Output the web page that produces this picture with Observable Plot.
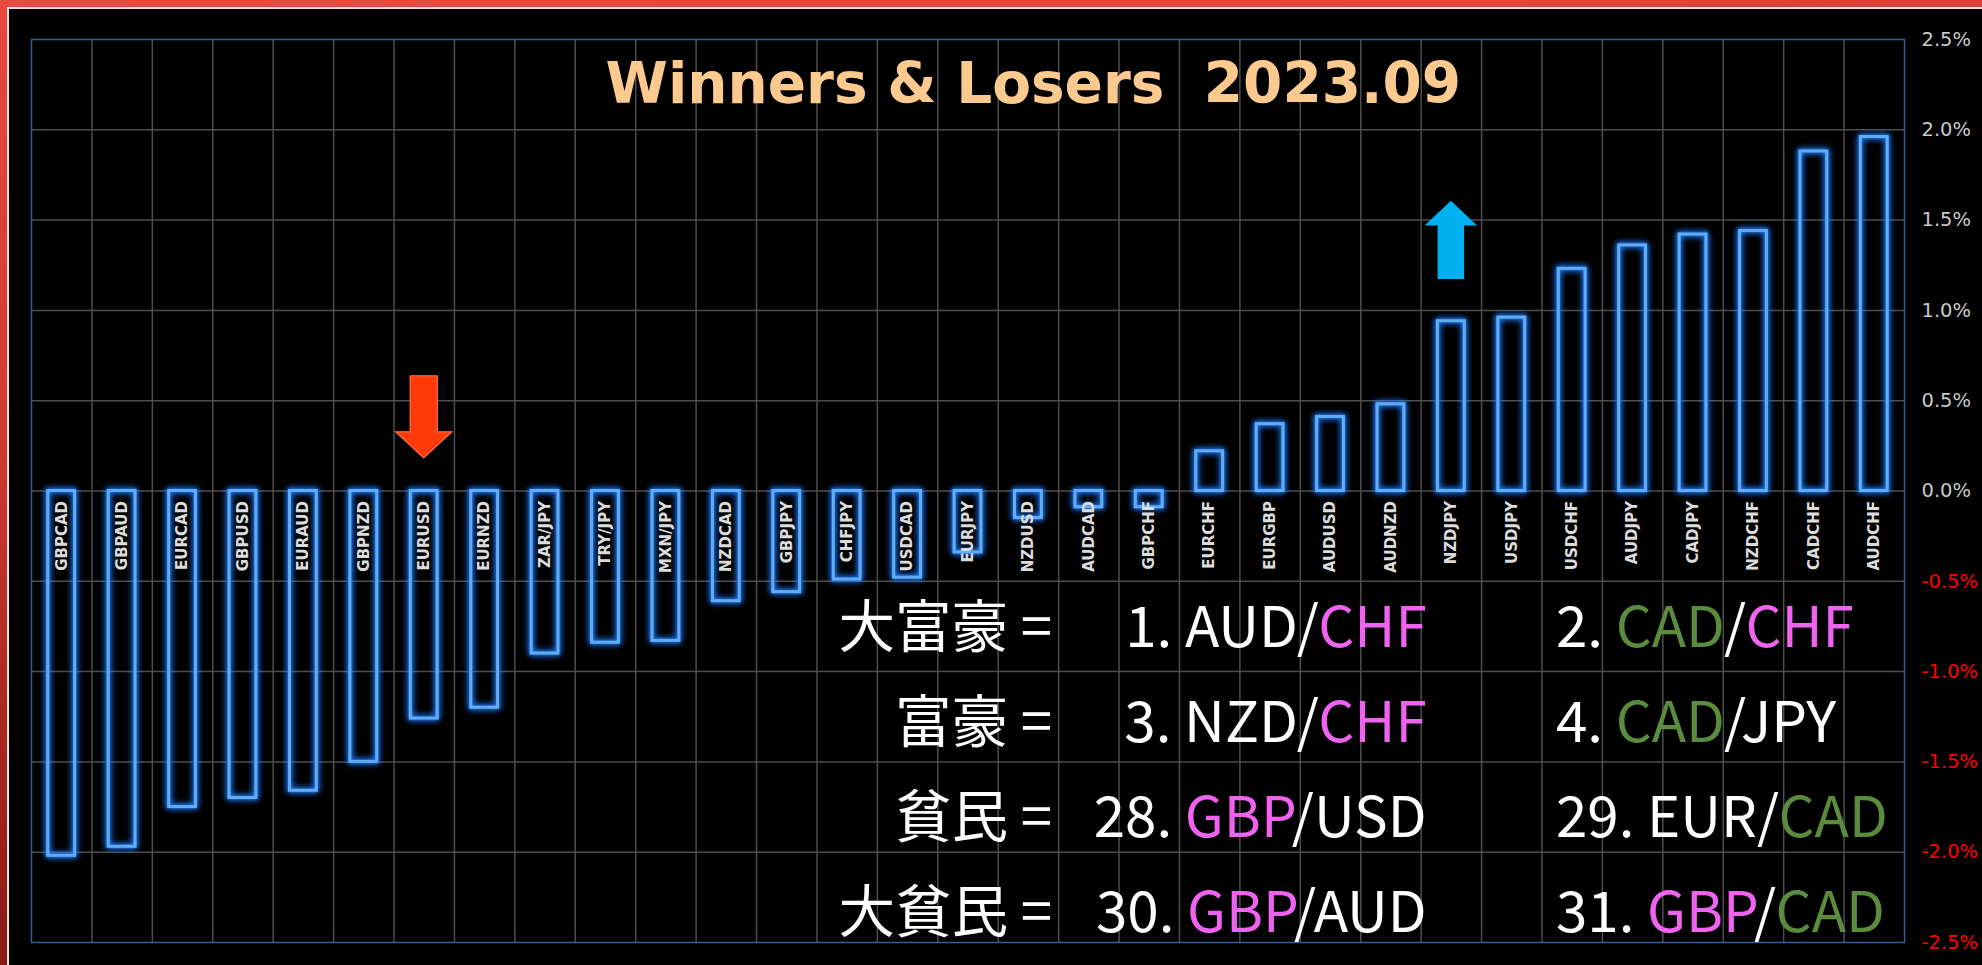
<!DOCTYPE html>
<html>
<head>
<meta charset="utf-8">
<script src="https://cdn.jsdelivr.net/npm/d3@7"></script>
<script src="https://cdn.jsdelivr.net/npm/@observablehq/plot@0.6"></script>
<style>
  html, body { margin: 0; padding: 0; background: #000; width: 1982px; height: 965px; overflow: hidden; }
  #frame-top { position: absolute; left: 0; top: 0; width: 1982px; height: 7px; background: linear-gradient(90deg, #e9493f, #e4463d 70%, #dc3f37); }
  #frame-left { position: absolute; left: 0; top: 0; width: 7px; height: 965px; background: linear-gradient(180deg, #e9493f, #cf3a31 45%, #8a1915); }
  #line-top { position: absolute; left: 7px; top: 7px; width: 1975px; height: 2px; background: #f2e2df; }
  #line-left { position: absolute; left: 7px; top: 7px; width: 2px; height: 958px; background: #f2e2df; }
  #chart { position: absolute; left: 0; top: 0; }
</style>
</head>
<body>
<div id="frame-top"></div>
<div id="frame-left"></div>
<div id="line-top"></div>
<div id="line-left"></div>
<div id="chart"></div>
<script>
// ---- Data ----
const pairs = ["GBPCAD","GBPAUD","EURCAD","GBPUSD","EURAUD","GBPNZD","EURUSD","EURNZD","ZAR/JPY","TRY/JPY","MXN/JPY",
  "NZDCAD","GBPJPY","CHFJPY","USDCAD","EURJPY","NZDUSD","AUDCAD","GBPCHF","EURCHF","EURGBP","AUDUSD","AUDNZD",
  "NZDJPY","USDJPY","USDCHF","AUDJPY","CADJPY","NZDCHF","CADCHF","AUDCHF"];
const changes = [-2.02,-1.97,-1.75,-1.70,-1.66,-1.50,-1.26,-1.20,-0.90,-0.84,-0.83,
  -0.61,-0.56,-0.49,-0.48,-0.34,-0.15,-0.09,-0.09,0.22,0.37,0.41,0.48,
  0.94,0.96,1.23,1.36,1.42,1.44,1.88,1.96];
const yTicks = [2.5,2.0,1.5,1.0,0.5,0.0,-0.5,-1.0,-1.5,-2.0,-2.5];
const titleText = "Winners & Losers  2023.09";

// ranking annotation
const rankTitles = ["大富豪 =","富豪 =","貧民 =","大貧民 ="];
const leftRanks  = ["1.","3.","28.","30."];
const leftBase   = ["AUD","NZD","GBP","GBP"];
const leftQuote  = ["CHF","CHF","USD","AUD"];
const rightRanks = ["2.","4.","29.","31."];
const rightBase  = ["CAD","CAD","EUR","GBP"];
const rightQuote = ["CHF","JPY","CAD","CAD"];

// arrows (pair they point at)
const arrowPairs = ["EURUSD","NZDJPY"];

// ---- Styles / layout ----
const currencyColor = {CHF: "#f062f0", GBP: "#f062f0", CAD: "#5b8c3d"};
const rowLevels = [-0.866, -1.392, -1.918, -2.445];   // text baselines, y units
const colTitleEnd = 16.90, colLeftEnd = 23.10, colRightStart = 25.24; // column units
const titlePos = {col: 16.59, level: 2.146};
const arrowStyle = [
  {tail: 0.635, neck: 0.325, tip: 0.18, shaft: 0.225, head: 0.465, color: "#ff3a0a", edge: "#ff6a4a"},
  {tail: 1.175, neck: 1.47,  tip: 1.60, shaft: 0.21,  head: 0.41,  color: "#00b0f0", edge: "#00b0f0"}
];

const data = pairs.map((p, i) => ({pair: p, i, value: changes[i]}));
const NS = "http://www.w3.org/2000/svg";

function el(doc, tag, attrs) {
  const e = doc.createElementNS(NS, tag);
  for (const k in attrs) e.setAttribute(k, attrs[k]);
  return e;
}
function segText(doc, x, y, anchor, segs) {
  const t = el(doc, "text", {x, y, "text-anchor": anchor});
  t.style.whiteSpace = "pre";
  for (const [s, c] of segs) {
    const ts = el(doc, "tspan", {fill: c});
    ts.textContent = s;
    t.appendChild(ts);
  }
  return t;
}
function pairSegs(base, quote) {
  return [[base, currencyColor[base] || "#ffffff"], ["/", "#ffffff"], [quote, currencyColor[quote] || "#ffffff"]];
}

function titleMark(index, scales, values, dimensions, context) {
  const doc = context.document;
  const t = el(doc, "text", {
    x: scales.x(titlePos.col), y: scales.y(titlePos.level), "text-anchor": "middle",
    fill: "#fcc98f", "font-family": "'DejaVu Sans', sans-serif", "font-weight": "bold", "font-size": 56.5
  });
  t.style.whiteSpace = "pre";
  t.textContent = titleText;
  return t;
}

function arrowMark(index, scales, values, dimensions, context) {
  const doc = context.document;
  const g = el(doc, "g", {});
  const unit = scales.x(1) - scales.x(0);
  arrowPairs.forEach((p, k) => {
    const a = arrowStyle[k];
    const cx = scales.x(pairs.indexOf(p) + 0.5);
    const sw = a.shaft * unit, hw = a.head * unit;
    const yt = scales.y(a.tail), yn = scales.y(a.neck), yp = scales.y(a.tip);
    const d = `M${cx - sw},${yt}L${cx + sw},${yt}L${cx + sw},${yn}L${cx + hw},${yn}L${cx},${yp}L${cx - hw},${yn}L${cx - sw},${yn}Z`;
    g.appendChild(el(doc, "path", {d, fill: a.color, stroke: a.edge, "stroke-width": 1.2}));
  });
  return g;
}

function rankMark(index, scales, values, dimensions, context) {
  const doc = context.document;
  const g = el(doc, "g", {"font-family": "'Noto Sans CJK JP', sans-serif", "font-size": 56.5, fill: "#ffffff"});
  rankTitles.forEach((title, r) => {
    const y = scales.y(rowLevels[r]);
    g.appendChild(segText(doc, scales.x(colTitleEnd), y, "end", [[title, "#ffffff"]]));
    g.appendChild(segText(doc, scales.x(colLeftEnd), y, "end",
      [[leftRanks[r] + " ", "#ffffff"], ...pairSegs(leftBase[r], leftQuote[r])]));
    g.appendChild(segText(doc, scales.x(colRightStart), y, "start",
      [[rightRanks[r] + " ", "#ffffff"], ...pairSegs(rightBase[r], rightQuote[r])]));
  });
  return g;
}

const innerGrid = yTicks.filter(d => Math.abs(d) < 2.5);
const chart = Plot.plot({
  width: 1982,
  height: 965,
  marginLeft: 31,
  marginRight: 78,
  marginTop: 39,
  marginBottom: 23,
  style: {background: "transparent", overflow: "visible"},
  x: {domain: [0, pairs.length], axis: null},
  y: {domain: [-2.5, 2.5], axis: null},
  marks: [
    Plot.ruleY(innerGrid, {stroke: "#4e4e4e", strokeWidth: 1.5}),
    Plot.ruleX(d3.range(1, pairs.length), {stroke: "#4e4e4e", strokeWidth: 1.5}),
    Plot.frame({stroke: "#2d5f99", strokeWidth: 1.5}),
    Plot.rectY(data, {
      x1: "i", x2: d => d.i + 1, y: "value",
      insetLeft: 16.8, insetRight: 16.8,
      fill: "none", stroke: "#62adf2", strokeWidth: 3
    }),
    Plot.text(data, {
      x: d => d.i + 0.5, y: () => 0, text: "pair",
      rotate: -90, textAnchor: "end", dy: 10,
      fill: "#dcdcdc", fontSize: 15, fontWeight: "bold", fontFamily: "DejaVu Sans"
    }),
    titleMark,
    arrowMark,
    rankMark,
    Plot.text(yTicks.filter(d => d >= 0), {
      y: d => d, text: d => d.toFixed(1) + "%", frameAnchor: "right", textAnchor: "start", dx: 17,
      fill: "#c8c8c8", fontSize: 19.5, fontFamily: "DejaVu Sans"
    }),
    Plot.text(yTicks.filter(d => d < 0), {
      y: d => d, text: d => d.toFixed(1) + "%", frameAnchor: "right", textAnchor: "start", dx: 17,
      fill: "#ff0000", fontSize: 19.5, fontFamily: "DejaVu Sans"
    })
  ]
});
document.getElementById("chart").appendChild(chart);
d3.select(chart).selectAll('g[aria-label="rect"] rect')
  .style("filter", "drop-shadow(0 0 3px #1f7bff) drop-shadow(0 0 1.5px #1f7bff)");
</script>
</body>
</html>
